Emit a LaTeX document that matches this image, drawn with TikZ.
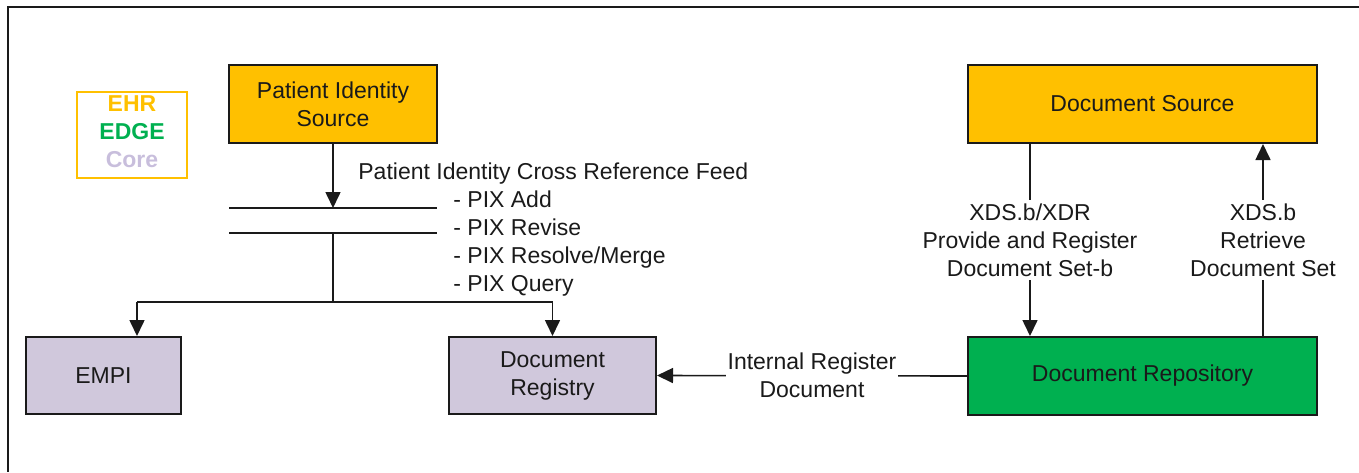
\documentclass[tikz,border=0pt]{standalone}
\usepackage{fontspec}
\setmainfont{Liberation Sans}
\usetikzlibrary{arrows.meta,calc}
\definecolor{ehr}{HTML}{FFC000}
\definecolor{edge}{HTML}{00B050}
\definecolor{core}{HTML}{D0C8DC}
\definecolor{corefont}{HTML}{C8BEDC}
\definecolor{ink}{HTML}{1A1A1A}
\tikzset{
  pic font/.style={font=\fontsize{11.5}{14}\selectfont},
  box/.style={draw=ink, line width=1pt, align=center, inner sep=0pt, text=ink, pic font},
  srcbox/.style={box, fill=ehr},
  corebox/.style={box, fill=core},
  edgebox/.style={box, fill=edge},
  conn/.style={draw=ink, line width=0.8pt},
  arr/.style={conn, -{Triangle[length=8pt,width=7.5pt]}},
  lbl/.style={fill=white, align=center, inner xsep=1pt, inner ysep=2pt, text=ink, pic font},
  plain/.style={text=ink, pic font, inner sep=0pt, anchor=base west},
}
\begin{document}
\begin{tikzpicture}[x=0.5pt,y=-0.5pt]
\useasboundingbox (0,0) rectangle (1359,472);
% frame
\draw[ink, line width=1pt] (1359,7) -- (8,7) -- (8,472);
% legend
\node[draw=ehr, line width=0.8pt, minimum width=55pt, minimum height=43pt, inner sep=0pt] (legend) at (132,135) {};
\node[font=\fontsize{11.5}{14}\selectfont\bfseries, text=ehr] (lehr) at (132,104) {EHR};
\node[font=\fontsize{11.5}{14}\selectfont\bfseries, text=edge] (ledge) at (132,132) {EDGE};
\node[font=\fontsize{11.5}{14}\selectfont\bfseries, text=corefont] (lcore) at (132,160) {Core};
% boxes
\node[srcbox, minimum width=104pt, minimum height=39pt] (pis) at (333,104) {Patient Identity\\Source};
\node[corebox, minimum width=77.5pt, minimum height=38.5pt] (empi) at (103.5,375.5) {EMPI};
\node[corebox, minimum width=103.5pt, minimum height=38.5pt] (reg) at (552.5,375.5) {Document\\Registry};
\node[srcbox, minimum width=174.5pt, minimum height=39pt] (src) at (1142.5,104) {Document Source};
\node[edgebox, minimum width=174.5pt, minimum height=39pt] (rep) at (1142.5,376) {Document Repository};
% PIX bus
\coordinate (b1l) at (229,208);
\coordinate (b1r) at (437,208);
\coordinate (b2l) at (229,233);
\coordinate (b2r) at (437,233);
\coordinate (split) at (333,302);
\path (empi.north west) ++(112,0) coordinate (ein);
\draw[conn] (b1l) -- (b1r);
\draw[conn] (b2l) -- (b2r);
\draw[arr] (pis.south) -- (pis.south |- b1l);
\draw[conn] (pis.south |- b2l) -- (split);
\draw[conn] (ein |- split) -- (reg.north |- split);
\draw[arr] (ein |- split) -- (ein);
\draw[arr] (reg.north |- split) -- (reg.north);
\node[plain] (pixfeed) at (358,179) {Patient Identity Cross Reference Feed};
\node[plain] (pix1) at (453,207) {- PIX Add};
\node[plain] (pix2) at (453,235) {- PIX Revise};
\node[plain] (pix3) at (453,263) {- PIX Resolve/Merge};
\node[plain] (pix4) at (453,291) {- PIX Query};
% XDS
\path (src.south west) ++(63,0) coordinate (a1);
\path (src.south west) ++(296,0) coordinate (a2);
\draw[arr] (a1) -- (a1 |- rep.north) node[midway, lbl] (l1) {XDS.b/XDR\\Provide and Register\\Document Set-b};
\draw[arr] (a2 |- rep.north) -- (a2) node[midway, lbl] (l2) {XDS.b\\Retrieve\\Document Set};
\draw[arr] (rep.west) -- (reg.east) node[midway, lbl] (l3) {Internal Register\\Document};
\end{tikzpicture}
\end{document}
